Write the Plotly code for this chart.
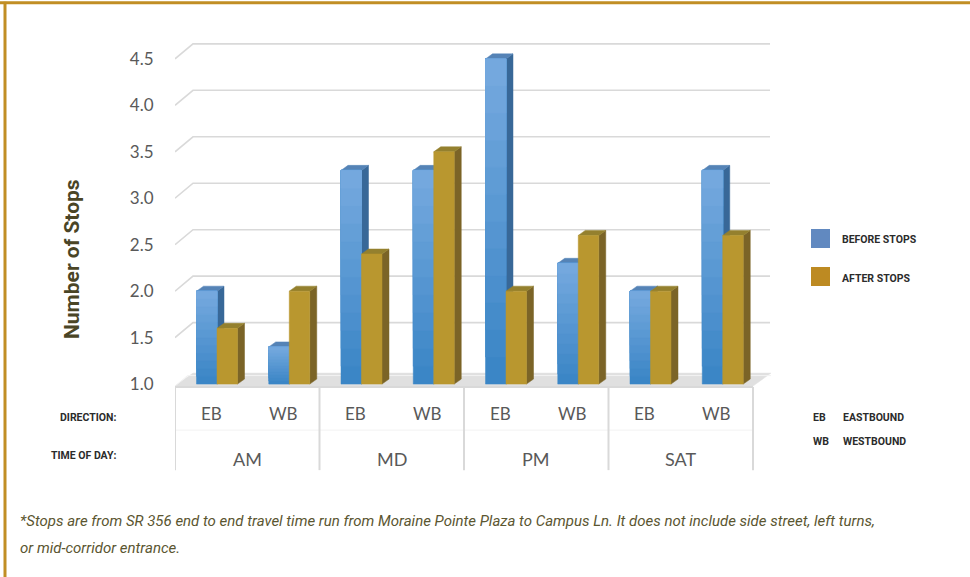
import plotly.graph_objects as go

# ---------------- data ----------------
directions = ["EB", "WB", "EB", "WB", "EB", "WB", "EB", "WB"]
time_of_day = ["AM", "MD", "PM", "SAT"]
before_stops = [2.0, 1.4, 3.3, 3.3, 4.5, 2.3, 2.0, 3.3]
after_stops = [1.6, 2.0, 2.4, 3.5, 2.0, 2.6, 2.0, 2.6]
y_ticks = [1.0, 1.5, 2.0, 2.5, 3.0, 3.5, 4.0, 4.5]
series_names = ["BEFORE STOPS", "AFTER STOPS"]
footnote = ["*Stops are from SR 356 end to end travel time run from Moraine Pointe Plaza to Campus Ln. It does not include side street, left turns,",
            "or mid-corridor entrance."]

# ---------------- geometry ----------------
W, H = 970, 577
PLOT_L, PLOT_R = 175, 782
CAT_PX = (753 - 175) / 8.0
X_MAX = (PLOT_R - PLOT_L) / CAT_PX
PY_BASE = 384.0          # pixel row of value 1.0
PX_PER_UNIT = 92.86
Y_MIN, Y_MAX = 0.0, 4.8
PLOT_T = PY_BASE - (Y_MAX - 1.0) * PX_PER_UNIT
PLOT_B = PY_BASE + (1.0 - Y_MIN) * PX_PER_UNIT
PW, PH = PLOT_R - PLOT_L, PLOT_B - PLOT_T


def ux(px):
    return (px - PLOT_L) / CAT_PX


def vy(py):
    return 1.0 - (py - PY_BASE) / PX_PER_UNIT


def dux(dpx):
    return dpx / CAT_PX


def dvy(dpy):
    return dpy / PX_PER_UNIT


def pxp(px):
    return (px - PLOT_L) / PW


def pyp(py):
    return 1 - (py - PLOT_T) / PH


def lerp_col(c1, c2, t):
    a = [int(c1[i:i + 2], 16) for i in (1, 3, 5)]
    b = [int(c2[i:i + 2], 16) for i in (1, 3, 5)]
    return "rgb(%d,%d,%d)" % tuple(round(a[k] + (b[k] - a[k]) * t) for k in range(3))


fig = go.Figure()


def poly(xs, ys, color):
    fig.add_trace(go.Scatter(x=xs + [xs[0]], y=ys + [ys[0]], fill="toself", fillcolor=color,
                             mode="lines", line=dict(width=0.5, color=color),
                             hoverinfo="skip", showlegend=False))


def line(xs, ys, color, width):
    fig.add_trace(go.Scatter(x=xs, y=ys, mode="lines", line=dict(color=color, width=width),
                             hoverinfo="skip", showlegend=False))


# floor slab
GX, GY = dux(18), dvy(15)
poly([0, 8, 8 + GX, GX], [vy(386), vy(386), vy(386) + GY - dvy(2), vy(386) + GY - dvy(2)], "#e0e0e0")
line([0, GX * 0.7, 8 + GX], [vy(386), vy(386) + GY * 0.7, vy(386) + GY * 0.7], "#f2f2f2", 1)

# gridlines (front diagonal + back line)
for t in y_ticks[1:]:
    line([0, GX, ux(770)], [t, t + GY, t + GY], "#d9d9d9", 1.6)

# bars
BW = dux(20.5)
DX, DY = dux(7), dvy(5)
OFF = dux(217 - 175) - 0.5  # pair centre offset from category centre


def bar(xl, val, front_top, front_bot, side, top, n=12):
    xr = xl + BW
    poly([xr, xr + DX, xr + DX, xr], [1.0, 1.0 + DY, val + DY, val], side)
    poly([xl, xl + DX, xr + DX, xr], [val, val + DY, val + DY, val], top)
    # front face: overlapping bands (bottom -> top) give a vertical gradient without seams
    for k in range(n):
        y0 = 1.0 + (val - 1.0) * k / n
        c = lerp_col(front_bot, front_top, k / (n - 1) if n > 1 else 0.5)
        poly([xl, xr, xr, xl], [y0, y0, val, val], c)
    fig.add_trace(go.Scatter(x=[xl + BW / 2], y=[val], mode="markers",
                             marker=dict(size=1, color="rgba(0,0,0,0)"),
                             hovertemplate="%{y}<extra></extra>", showlegend=False))


for i in range(8):
    c = i + 0.5 + OFF
    bar(c - BW, before_stops[i], "#74a8de", "#3b86c6", "#386898", "#5583b6")
    bar(c, after_stops[i], "#b9972f", "#b9972f", "#7b6427", "#94802e", n=1)

# category axis frame
AX_COL = "#d9d9d9"
line([0, 8], [vy(387), vy(387)], AX_COL, 2)
line([0, 8], [vy(430), vy(430)], "#f2f2f2", 1)
for g in range(5):
    line([2 * g, 2 * g], [vy(387), vy(470)], AX_COL, 2)

annotations = []
for i, d in enumerate(directions):
    annotations.append(dict(x=i + 0.5, y=vy(413), xref="x", yref="y", text=d, showarrow=False,
                            font=dict(family="Lato, Open Sans", size=17, color="#595959")))
for j, t in enumerate(time_of_day):
    annotations.append(dict(x=2 * j + 1, y=vy(459), xref="x", yref="y", text=t, showarrow=False,
                            font=dict(family="Lato, Open Sans", size=18, color="#595959")))

COND = "Roboto, Lato, sans-serif"
CAPS = dict(family=COND, size=10.5, color="#2b2b2b")


def ptxt(px, py, text, anchor="left", font=CAPS, angle=0):
    annotations.append(dict(x=pxp(px), y=pyp(py), xref="paper", yref="paper", text=text,
                            showarrow=False, xanchor=anchor, yanchor="middle", font=font,
                            textangle=angle))


ptxt(118, 417, "<b>DIRECTION:</b>", "right")
ptxt(118, 455, "<b>TIME OF DAY:</b>", "right")
ptxt(811, 417, "<b>EB</b>")
ptxt(841, 417, "<b>EASTBOUND</b>")
ptxt(811, 441, "<b>WB</b>")
ptxt(841, 441, "<b>WESTBOUND</b>")
ptxt(840, 240, "<b>" + series_names[0] + "</b>")
ptxt(840, 278, "<b>" + series_names[1] + "</b>")
ptxt(72, 259, "<b>Number of Stops</b>", "center",
     dict(family=COND, size=21, color="#4a4526"), angle=-90)
FOOT = dict(family=COND, size=15, color="#5b5631")
ptxt(18, 521, "<i>" + footnote[0] + "</i>", "left", FOOT)
ptxt(18, 548, "<i>" + footnote[1] + "</i>", "left", FOOT)

shapes = [
    dict(type="rect", xref="paper", yref="paper", x0=pxp(811), x1=pxp(830), y0=pyp(248), y1=pyp(229),
         fillcolor="#6189c0", line=dict(width=0)),
    dict(type="rect", xref="paper", yref="paper", x0=pxp(811), x1=pxp(830), y0=pyp(286), y1=pyp(267),
         fillcolor="#bd8a22", line=dict(width=0)),
    dict(type="line", xref="paper", yref="paper", x0=pxp(0), x1=pxp(970), y0=pyp(3), y1=pyp(3),
         line=dict(color="#c18e24", width=3)),
    dict(type="line", xref="paper", yref="paper", x0=pxp(5), x1=pxp(5), y0=pyp(2), y1=pyp(577),
         line=dict(color="#c18e24", width=3)),
]

fig.update_layout(
    width=W, height=H,
    margin=dict(l=PLOT_L, r=W - PLOT_R, t=PLOT_T, b=H - PLOT_B, pad=0),
    paper_bgcolor="white", plot_bgcolor="white",
    showlegend=False,
    xaxis=dict(range=[0, X_MAX], showgrid=False, zeroline=False, showline=False,
               showticklabels=False, ticks="", fixedrange=True),
    yaxis=dict(range=[Y_MIN, Y_MAX], showgrid=False, zeroline=False, showline=False,
               tickmode="array", tickvals=y_ticks, ticktext=["%.1f" % t for t in y_ticks],
               ticks="outside", ticklen=17, tickcolor="rgba(0,0,0,0)",
               tickfont=dict(family="Lato, Open Sans", size=17, color="#595959"), fixedrange=True),
    annotations=annotations,
    shapes=shapes,
)

fig.write_html("out.html")
